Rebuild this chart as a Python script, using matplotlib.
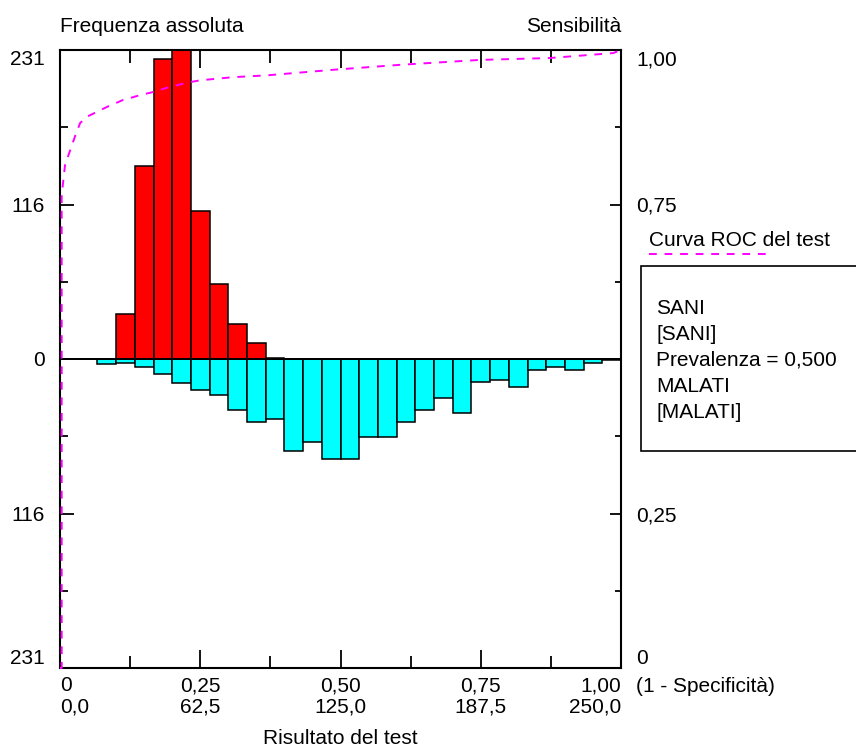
import numpy as np
import matplotlib.pyplot as plt
from matplotlib.patches import Rectangle
from matplotlib.lines import Line2D

plt.rcParams['font.family'] = ['Liberation Sans', 'DejaVu Sans']
plt.rcParams['font.size'] = 15

# frequenze assolute per classe (30 classi tra 0 e 250)
sani = [0, 0, 0, 34, 144, 224, 231, 111, 56, 26, 12, 1, 0, 0, 0,
        0, 0, 0, 0, 0, 0, 0, 0, 0, 0, 0, 0, 0, 0, 0]
malati = [0, 0, 4, 3, 6, 11, 18, 23, 27, 38, 47, 45, 69, 62, 75,
          75, 58, 58, 47, 38, 29, 40, 17, 16, 21, 8, 6, 8, 3, 1]
risultato_max = 250
freq_max = 231

# curva ROC (1 - specificita, sensibilita)
roc_fpr = [0, 0.003, 0.003, 0.009, 0.014, 0.029, 0.036, 0.048, 0.066, 0.084,
           0.112, 0.143, 0.166, 0.191, 0.226, 0.250, 0.308, 0.369, 0.487,
           0.606, 0.749, 0.873, 0.986, 1.0]
roc_tpr = [0, 0, 0.765, 0.814, 0.827, 0.866, 0.882, 0.892, 0.900, 0.908,
           0.919, 0.927, 0.932, 0.939, 0.947, 0.951, 0.956, 0.959, 0.968,
           0.976, 0.984, 0.987, 0.995, 1.0]

x_ticks = [0, 62.5, 125, 187.5, 250]
x_labels = ['0\n0,0', '0,25\n62,5', '0,50\n125,0', '0,75\n187,5', '1,00\n250,0']
sens_ticks = [0, 0.25, 0.5, 0.75, 1.0]
sens_labels = ['0', '0,25', '', '0,75', '1,00']
legenda = ['SANI', '[SANI]', 'Prevalenza = 0,500', 'MALATI', '[MALATI]']

W, H = 856, 749


def fpos(xp, yp):
    return xp / W, 1 - yp / H


fig = plt.figure(figsize=(W / 100, H / 100), dpi=100)
rect = [60 / W, 1 - 668 / H, 561 / W, 618 / H]
ax = fig.add_axes(rect)

larghezza = risultato_max / len(sani)
x = np.arange(len(sani)) * larghezza
ax.bar(x, [-v for v in malati], width=larghezza, align='edge', color='#00ffff',
       edgecolor='black', linewidth=1.1, zorder=2)
ax.bar(x, sani, width=larghezza, align='edge', color='#ff0000',
       edgecolor='black', linewidth=1.1, zorder=2)
ax.axhline(0, color='black', lw=1.4, zorder=3)
ax.set_xlim(0, risultato_max)
ax.set_ylim(-freq_max, freq_max)

for s in ax.spines.values():
    s.set_linewidth(1.5)

# asse sinistro
ax.set_yticks([-freq_max, -freq_max / 2, 0, freq_max / 2, freq_max],
              labels=['231', '116', '0', '116', '231'])
ax.set_yticks([-freq_max * 0.75, -freq_max * 0.25, freq_max * 0.25, freq_max * 0.75], minor=True)
ax.tick_params(axis='y', which='major', direction='in', length=10, width=1.3, pad=11)
ax.tick_params(axis='y', which='minor', direction='in', length=6, width=1.3)

# asse orizzontale
ax.set_xticks(x_ticks, labels=x_labels)
ax.set_xticks([31.25, 93.75, 156.25, 218.75], minor=True)
ax.tick_params(axis='x', which='major', direction='in', length=13, width=1.3,
               top=True, pad=6)
ax.tick_params(axis='x', which='minor', direction='in', length=9, width=1.3, top=True)

ylab = ax.get_yticklabels()
ylab[0].set_va('bottom')
ylab[-1].set_va('top')
xlab = ax.get_xticklabels()
for t in xlab:
    t.set_linespacing(1.15)
xlab[0].set_ha('left')
xlab[0].set_multialignment('left')
xlab[-1].set_ha('right')
xlab[-1].set_multialignment('right')

# curva ROC su asse destro
ax_roc = fig.add_axes(rect, facecolor='none')
for s in ax_roc.spines.values():
    s.set_visible(False)
ax_roc.set_xlim(0, 1)
ax_roc.set_ylim(0, 1)
ax_roc.set_xticks([])
ax_roc.yaxis.tick_right()
ax_roc.set_yticks(sens_ticks, labels=sens_labels)
ax_roc.set_yticks([0.125, 0.375, 0.625, 0.875], minor=True)
ax_roc.tick_params(axis='y', which='major', direction='in', length=8, width=1.3, pad=11)
ax_roc.tick_params(axis='y', which='minor', direction='in', length=4, width=1.3)
rlab = ax_roc.get_yticklabels()
rlab[0].set_va('bottom')
rlab[-1].set_va('top')
ax_roc.plot(roc_fpr, roc_tpr, color='#ff00ff', lw=1.4, ls=(0, (4, 4)), clip_on=False)

# testi
fig.text(*fpos(60, 27), 'Frequenza assoluta', ha='left', va='center')
fig.text(*fpos(621, 27), 'Sensibilità', ha='right', va='center')
fig.text(*fpos(636, 687), '(1 - Specificità)', ha='left', va='center')
fig.text(*fpos(340, 738), 'Risultato del test', ha='center', va='center')

# legenda
fig.text(*fpos(649, 240), 'Curva ROC del test', ha='left', va='center')
fig.add_artist(Line2D([649 / W, 768 / W], [1 - 254 / H, 1 - 254 / H],
                      color='#ff00ff', lw=1.4, ls=(0, (4, 4))))
fig.add_artist(Rectangle(fpos(641, 451), (900 - 641) / W, 185 / H,
                         facecolor='white', edgecolor='black', lw=1.2))
for i, riga in enumerate(legenda):
    fig.text(*fpos(656, 308 + i * 26.2), riga, ha='left', va='center')

fig.savefig('out.png', dpi=100)
